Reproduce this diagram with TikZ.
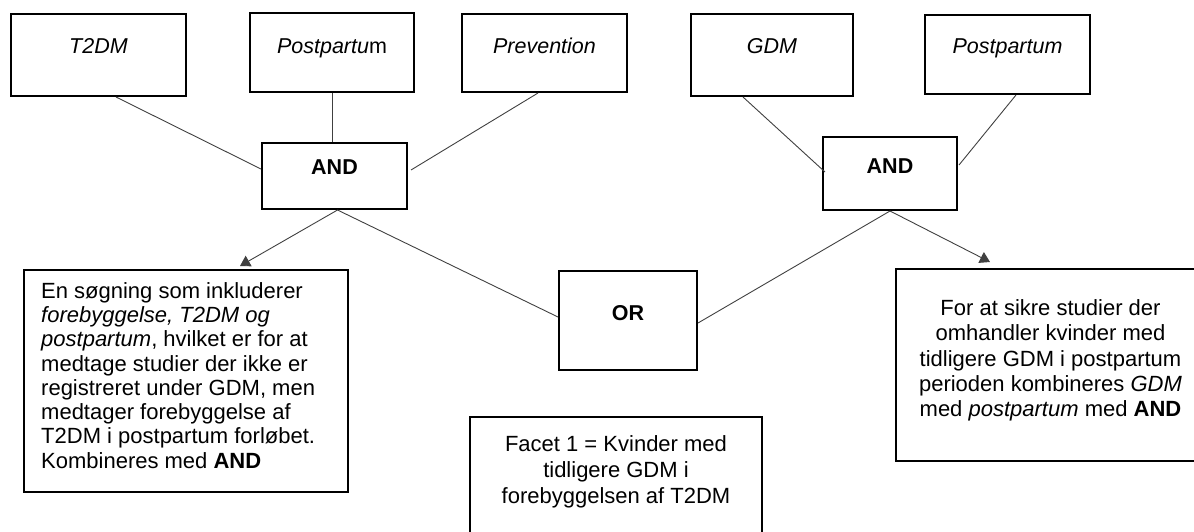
\documentclass[tikz,border=0pt]{standalone}
\usepackage{fontspec}
\setmainfont{Liberation Sans}
\usetikzlibrary{arrows.meta}
\begin{document}
\begin{tikzpicture}[x=1pt,y=-1pt,
  box/.style={draw=black,line width=2pt,rectangle,inner sep=0pt},
  lbl/.style={font=\fontsize{21.5}{24}\selectfont,inner sep=0pt,anchor=base},
  para/.style={font=\fontsize{22}{24.3}\selectfont,inner sep=0pt},
  conn/.style={draw=black!75,line width=0.9pt},
  arr/.style={conn,-{Triangle[width=12pt,length=10pt]}}]
\useasboundingbox (0,0) rectangle (1194,531);
\clip (0,0) rectangle (1194,531);
% boxes
\node[box,minimum width=175pt,minimum height=82pt] (t2dm) at (98.5,55) {};
\node[box,minimum width=164pt,minimum height=79pt] (pp1) at (332,52.5) {};
\node[box,minimum width=165pt,minimum height=78pt] (prev) at (544.5,53) {};
\node[box,minimum width=162pt,minimum height=82pt] (gdm) at (772,55) {};
\node[box,minimum width=165pt,minimum height=79pt] (pp2) at (1007.5,54.5) {};
\node[box,minimum width=145pt,minimum height=66pt] (and1) at (334.5,176) {};
\node[box,minimum width=134pt,minimum height=73pt] (and2) at (890,173.5) {};
\node[box,minimum width=324pt,minimum height=222pt] (left) at (186,381) {};
\node[box,minimum width=138pt,minimum height=99pt] (orb) at (628,320.5) {};
\node[box,minimum width=292pt,minimum height=143pt] (facet) at (616,488.5) {};
\node[box,minimum width=309pt,minimum height=192pt] (right) at (1050.5,365) {};
% labels
\node[lbl] (t2dmtxt) at (98.5,53) {\textit{T2DM}};
\node[lbl] (pp1txt) at (332,53) {\textit{Postpartu}m};
\node[lbl] (prevtxt) at (544.5,53) {\textit{Prevention}};
\node[lbl] (gdmtxt) at (772,53) {\textit{GDM}};
\node[lbl] (pp2txt) at (1007.5,53) {\textit{Postpartum}};
\node[lbl] (and1txt) at (334.5,174) {\textbf{AND}};
\node[lbl] (and2txt) at (890,173) {\textbf{AND}};
\node[lbl] (ortxt) at (628,320) {\textbf{OR}};
\node[para,anchor=north west,align=left] (lefttxt) at (41,282) {En søgning som inkluderer\\ \textit{forebyggelse, T2DM og}\\ \textit{postpartum}, hvilket er for at\\ medtage studier der ikke er\\ registreret under GDM, men\\ medtager forebyggelse af\\ T2DM i postpartum forløbet.\\ Kombineres med \textbf{AND}};
\node[font=\fontsize{22}{25.3}\selectfont,inner sep=0pt,anchor=north,align=center] (righttxt) at (1050.5,299.5) {For at sikre studier der\\ omhandler kvinder med\\ tidligere GDM i postpartum\\ perioden kombineres \textit{GDM}\\ med \textit{postpartum} med \textbf{AND}};
\node[font=\fontsize{22}{26}\selectfont,inner sep=0pt,anchor=north,align=center] (facettxt) at (616,435) {Facet 1 = Kvinder med\\ tidligere GDM i\\ forebyggelsen af T2DM};
% connectors
\draw[conn] ([xshift=17.5pt]t2dm.south) -- ([yshift=7pt]and1.west);
\draw[conn] (pp1.south) -- (pp1.south |- and1.north);
\draw[conn] ([xshift=-6.5pt]prev.south) -- ([xshift=3pt,yshift=6pt]and1.east);
\draw[conn] ([xshift=-29pt]gdm.south) -- ([xshift=3pt,yshift=1.5pt]and2.west);
\draw[conn] ([xshift=8.5pt]pp2.south) -- ([xshift=1pt,yshift=8.5pt]and2.east);
\draw[arr] ([xshift=3pt]and1.south) -- ([xshift=54pt,yshift=3pt]left.north);
\draw[conn] ([xshift=3pt]and1.south) -- ([yshift=3.5pt]orb.west);
\draw[conn] (and2.south) -- ([yshift=-2.5pt]orb.east);
\draw[arr] (and2.south) -- ([xshift=-60.5pt,yshift=6pt]right.north);
\end{tikzpicture}
\end{document}
